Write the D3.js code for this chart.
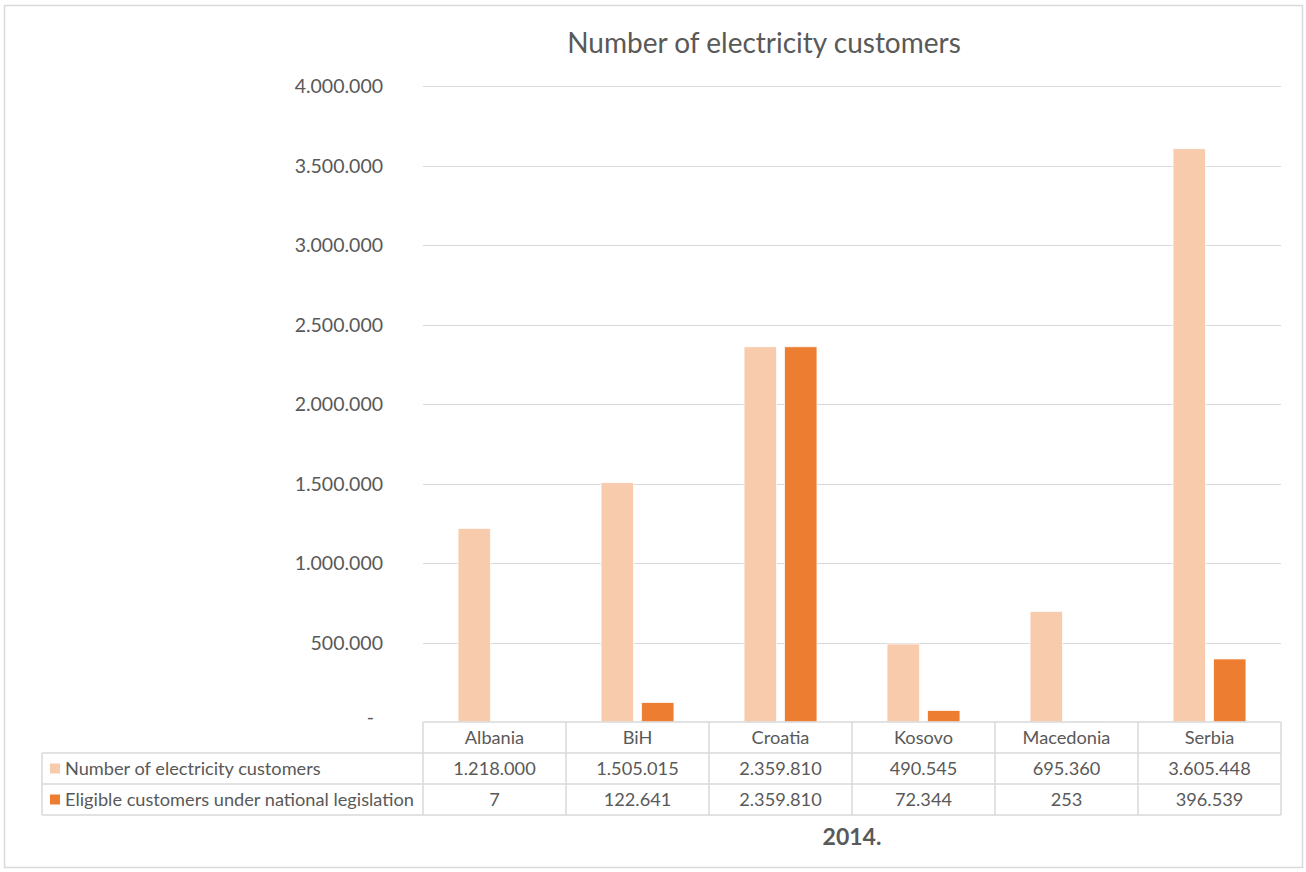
<!DOCTYPE html>
<html>
<head>
<meta charset="utf-8">
<script src="https://cdn.jsdelivr.net/npm/d3@7"></script>
<style>
  body { margin: 0; background: #fff; }
  svg { display: block; font-family: Lato, "Open Sans", sans-serif; }
</style>
</head>
<body>
<svg id="chart" width="1306" height="872"></svg>
<script>
// data
var countries = ["Albania", "BiH", "Croatia", "Kosovo", "Macedonia", "Serbia"];
var seriesNames = ["Number of electricity customers", "Eligible customers under national legislation"];
var totalCustomers = [1218000, 1505015, 2359810, 490545, 695360, 3605448];
var eligibleCustomers = [7, 122641, 2359810, 72344, 253, 396539];
var yTicks = [0, 500000, 1000000, 1500000, 2000000, 2500000, 3000000, 3500000, 4000000];
var colors = ["#F8CBAD", "#ED7D31"];

var values = [totalCustomers, eligibleCustomers];

var svg = d3.select("#chart"),
    width = 1306,
    height = 872;

var textColor = "#595959",
    lineColor = "#d9d9d9";

var plot = { left: 423, right: 1281, top: 86, bottom: 722 };

// number format with dots as thousands separator
var locale = d3.formatLocale({ decimal: ",", thousands: ".", grouping: [3], currency: ["", ""] });
var fmt = locale.format(",d");

// outer border
svg.append("rect")
    .attr("x", 4.5).attr("y", 5.5)
    .attr("width", 1298).attr("height", 862)
    .attr("fill", "none")
    .attr("stroke", lineColor)
    .attr("stroke-width", 1.5);

// scales
var x0 = d3.scaleBand()
    .domain(countries)
    .range([plot.left, plot.right])
    .padding(0);

var bw = x0.bandwidth();
var x1 = d3.scaleBand()
    .domain(d3.range(seriesNames.length))
    .range([bw * 0.245, bw * 0.755])
    .paddingInner(0.195)
    .paddingOuter(0);

var y = d3.scaleLinear()
    .domain([0, 4000000])
    .range([plot.bottom, plot.top]);

// gridlines
svg.append("g")
    .selectAll("line")
    .data(yTicks.filter(function(d) { return d > 0; }))
    .join("line")
    .attr("x1", plot.left).attr("x2", plot.right)
    .attr("y1", function(d) { return Math.round(y(d)) + 0.5; })
    .attr("y2", function(d) { return Math.round(y(d)) + 0.5; })
    .attr("stroke", lineColor)
    .attr("stroke-width", 1);

// y axis labels
var yAxis = d3.axisLeft(y)
    .tickValues(yTicks)
    .tickSize(0)
    .tickPadding(0)
    .tickFormat(function(d) { return d === 0 ? "-" : fmt(d); });

var gy = svg.append("g")
    .attr("transform", "translate(383,0)")
    .call(yAxis);
gy.select(".domain").remove();
gy.selectAll("text")
    .attr("fill", textColor)
    .attr("font-size", 19.5)
    .attr("font-family", "Lato, 'Open Sans', sans-serif")
    .attr("dy", "0.35em");
gy.selectAll(".tick").filter(function(d) { return d === 0; })
    .select("text").attr("x", -9).attr("dy", "0.1em");

// bars
var groups = svg.append("g")
    .selectAll("g")
    .data(countries)
    .join("g")
    .attr("transform", function(d) { return "translate(" + x0(d) + ",0)"; });

groups.selectAll("rect")
    .data(function(d, i) {
        return values.map(function(v, s) { return { s: s, v: v[i] }; });
    })
    .join("rect")
    .attr("x", function(d) { return x1(d.s); })
    .attr("width", x1.bandwidth())
    .attr("y", function(d) { return y(d.v); })
    .attr("height", function(d) { return y(0) - y(d.v); })
    .attr("fill", function(d) { return colors[d.s]; })
    .attr("stroke", "#fff")
    .attr("stroke-width", 0.75);

// data table
var rowH = 31,
    tableLeft = 42,
    tableTop = plot.bottom,
    tableFont = 18.2;

var tbl = svg.append("g").attr("stroke", lineColor).attr("stroke-width", 1.5).attr("fill", "none");

// horizontal lines
tbl.append("line").attr("x1", plot.left).attr("x2", plot.right).attr("y1", tableTop).attr("y2", tableTop);
[1, 2, 3].forEach(function(r) {
    tbl.append("line")
        .attr("x1", tableLeft).attr("x2", plot.right)
        .attr("y1", tableTop + r * rowH).attr("y2", tableTop + r * rowH);
});
// vertical lines
tbl.append("line").attr("x1", tableLeft).attr("x2", tableLeft)
    .attr("y1", tableTop + rowH).attr("y2", tableTop + 3 * rowH);
countries.forEach(function(c) {
    tbl.append("line").attr("x1", x0(c)).attr("x2", x0(c))
        .attr("y1", tableTop).attr("y2", tableTop + 3 * rowH);
});
tbl.append("line").attr("x1", plot.right).attr("x2", plot.right)
    .attr("y1", tableTop).attr("y2", tableTop + 3 * rowH);

// header row: categories
svg.append("g")
    .selectAll("text")
    .data(countries)
    .join("text")
    .attr("x", function(d) { return x0(d) + bw / 2; })
    .attr("y", tableTop + rowH / 2)
    .attr("dy", "0.35em")
    .attr("text-anchor", "middle")
    .attr("font-size", tableFont)
    .attr("fill", textColor)
    .text(function(d) { return d; });

// series rows
seriesNames.forEach(function(name, s) {
    var cy = tableTop + (s + 1) * rowH + rowH / 2;
    svg.append("rect")
        .attr("x", 50).attr("y", cy - 5)
        .attr("width", 10).attr("height", 10)
        .attr("fill", colors[s]);
    svg.append("text")
        .attr("x", 65).attr("y", cy)
        .attr("dy", "0.35em")
        .attr("font-size", tableFont)
        .attr("fill", textColor)
        .text(name);
    svg.append("g")
        .selectAll("text")
        .data(values[s])
        .join("text")
        .attr("x", function(d, i) { return x0(countries[i]) + bw / 2; })
        .attr("y", cy)
        .attr("dy", "0.35em")
        .attr("text-anchor", "middle")
        .attr("font-size", tableFont)
        .attr("fill", textColor)
        .text(function(d) { return fmt(d); });
});

// axis title
svg.append("text")
    .attr("x", (plot.left + plot.right) / 2)
    .attr("y", 837)
    .attr("dy", "0.35em")
    .attr("text-anchor", "middle")
    .attr("font-size", 23)
    .attr("font-weight", "bold")
    .attr("fill", textColor)
    .text("2014.");

// chart title
svg.append("text")
    .attr("x", 764)
    .attr("y", 43)
    .attr("dy", "0.35em")
    .attr("text-anchor", "middle")
    .attr("font-size", 28)
    .attr("fill", textColor)
    .text("Number of electricity customers");
</script>
</body>
</html>
